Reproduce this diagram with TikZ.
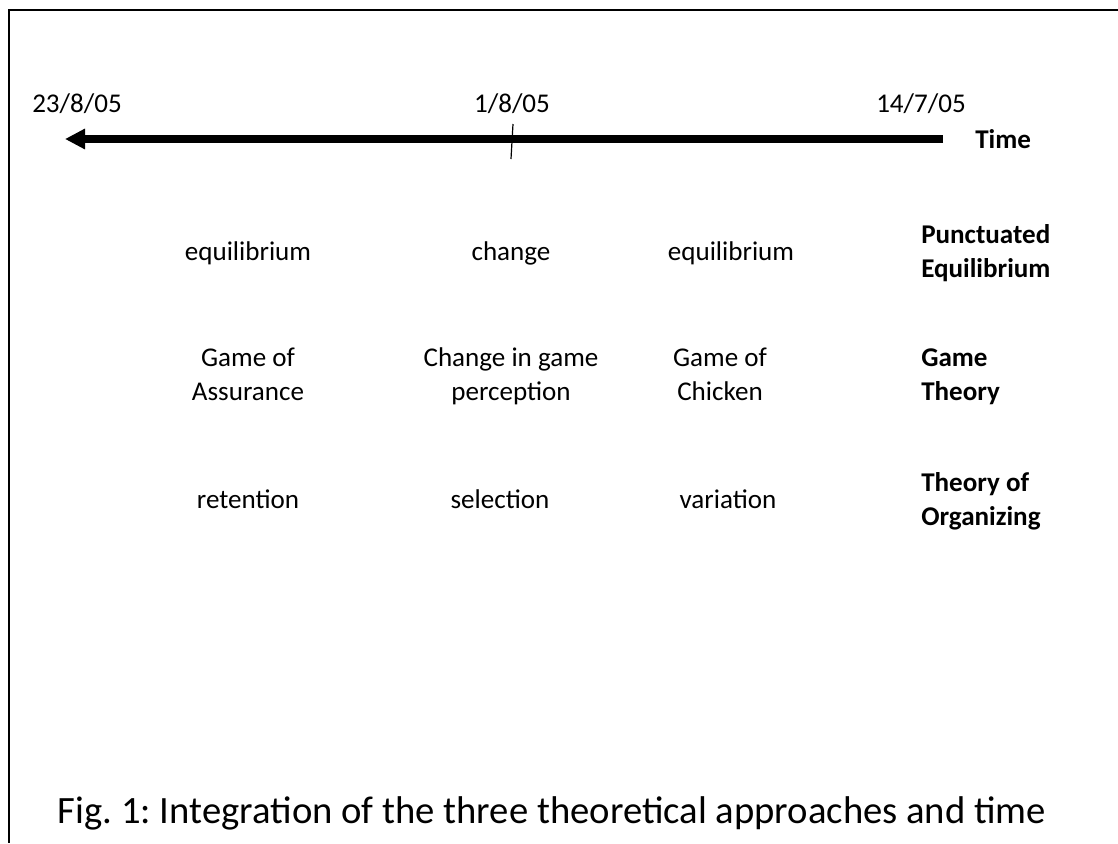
\documentclass[tikz,border=0pt]{standalone}
\usepackage{fontspec}
\setmainfont{Carlito}
\usetikzlibrary{arrows.meta,positioning}
\tikzset{
  cell/.style ={align=center,inner sep=0pt,font=\fontsize{20.3}{25.5}\selectfont},
  thy/.style  ={cell,align=left,anchor=west,font=\fontsize{20.3}{25.5}\selectfont\bfseries},
  dat/.style  ={cell},
  capt/.style ={inner sep=0pt,font=\fontsize{29}{34}\selectfont\frenchspacing},
  tline/.style={line width=6pt,-{Triangle[length=15pt,width=14.5pt]}},
  frm/.style  ={line width=1.8pt},
}
% every line gets a strut, so one- and two-line cells centre alike
\newcommand{\sline}[1]{#1\strut}
\begin{document}
\begin{tikzpicture}[x=0.75pt,y=-0.75pt]
\useasboundingbox (0,0) rectangle (1118,843);

% ===== frame =============================================================
\draw[frm] (1118,10) -- (9,10) -- (9,843);

% ===== time axis (runs backwards: latest date on the left) ===============
\coordinate (tR) at (943,139);
\coordinate (tL) at (65,139);
\draw[tline] (tR) -- (tL);
\node[dat] (d1) at (77,104)  {23/8/05};
\node[dat] (d2) at (512,104) {1/8/05};
\node[dat] (d3) at (921,104) {14/7/05};
\node[thy] (time) at (975,139) {Time};
\coordinate (mkA) at (513,124);
\coordinate (mkB) at (511,159);
\draw[line width=0.9pt] (mkA) -- (mkB);

% ===== punctuated equilibrium ============================================
\def\yA{254}
\node[cell] (pe1) at (248,\yA) {\sline{equilibrium}};
\node[cell] (pe2) at (511,\yA) {\sline{change}};
\node[cell] (pe3) at (731,\yA) {\sline{equilibrium}};
\node[thy]  (pe)  at (921,\yA) {\sline{Punctuated}\\\sline{Equilibrium}};

% ===== game theory =======================================================
\def\yB{377}
\node[cell] (gt1) at (248,\yB) {\sline{Game of}\\\sline{Assurance}};
\node[cell] (gt2) at (511,\yB) {\sline{Change in game}\\\sline{perception}};
\node[cell] (gt3) at (720,\yB) {\sline{Game of}\\\sline{Chicken}};
\node[thy]  (gt)  at (921,\yB) {\sline{Game}\\\sline{Theory}};

% ===== theory of organizing ==============================================
\def\yC{502}
\node[cell] (to1) at (248,\yC) {\sline{retention}};
\node[cell] (to2) at (500,\yC) {\sline{selection}};
\node[cell] (to3) at (728,\yC) {\sline{variation}};
\node[thy]  (to)  at (921,\yC) {\sline{Theory of}\\\sline{Organizing}};

% ===== caption ===========================================================
\node[capt] (fig) at (552,813)
  {Fig. 1: Integration of the three theoretical approaches and time};
\end{tikzpicture}
\end{document}
